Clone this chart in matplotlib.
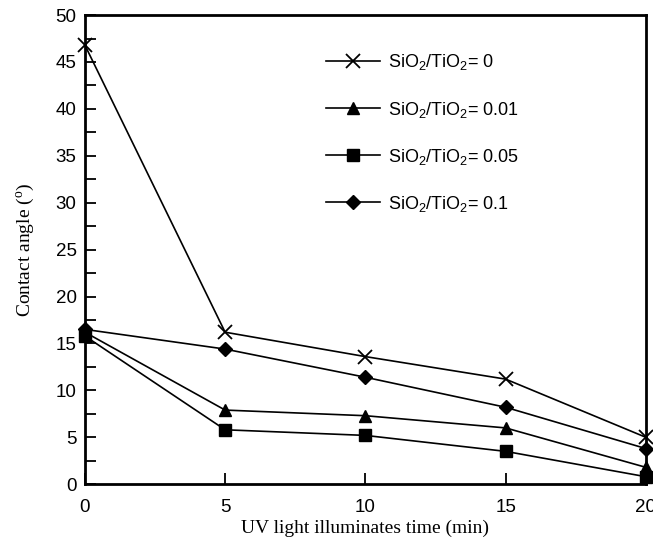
import matplotlib
matplotlib.use('Agg')
import matplotlib.pyplot as plt

# UV illumination time (min)
time_min = [0, 5, 10, 15, 20]

# contact angle (deg) for each SiO2/TiO2 ratio
ca_0 = [46.8, 16.2, 13.6, 11.2, 5.0]
ca_001 = [16.2, 7.9, 7.3, 6.0, 1.8]
ca_005 = [15.8, 5.8, 5.2, 3.5, 0.8]
ca_01 = [16.5, 14.4, 11.4, 8.2, 3.8]

labels = ['SiO$_2$/TiO$_2$= 0', 'SiO$_2$/TiO$_2$= 0.01',
          'SiO$_2$/TiO$_2$= 0.05', 'SiO$_2$/TiO$_2$= 0.1']

plt.rcParams['font.family'] = ['Liberation Sans', 'DejaVu Sans']
plt.rcParams['mathtext.default'] = 'regular'

fig = plt.figure(figsize=(6.53, 5.38), dpi=100)
ax = fig.add_axes([0.130, 0.100, 0.859, 0.872])

ax.plot(time_min, ca_0, color='black', lw=1.2, marker='x', ms=10, mew=1.3,
        label=labels[0], clip_on=False, zorder=3)
ax.plot(time_min, ca_001, color='black', lw=1.2, marker='^', ms=9,
        label=labels[1], clip_on=False, zorder=3)
ax.plot(time_min, ca_005, color='black', lw=1.2, marker='s', ms=8,
        label=labels[2], clip_on=False, zorder=3)
ax.plot(time_min, ca_01, color='black', lw=1.2, marker='D', ms=7,
        label=labels[3], clip_on=False, zorder=3)

ax.set_xlim(0, 20)
ax.set_ylim(0, 50)
ax.set_xticks([0, 5, 10, 15, 20])
ax.set_yticks(range(0, 51, 5))
ax.set_yticks([2.5 + 5 * i for i in range(10)], minor=True)

for s in ax.spines.values():
    s.set_linewidth(2)

ax.tick_params(axis='both', which='major', direction='in', length=8, width=1.3,
               labelsize=13.5, pad=6)
ax.tick_params(axis='y', which='minor', direction='in', length=8, width=1.3)
ax.tick_params(axis='x', pad=11)

ax.set_xlabel('UV light illuminates time (min)', family='Liberation Serif',
              fontsize=14, labelpad=2)
ax.set_ylabel('Contact angle ($^{o}$)', family='Liberation Serif',
              fontsize=14, labelpad=14)

ax.legend(loc='upper left', bbox_to_anchor=(0.40, 0.955), frameon=False,
          fontsize=13, handlelength=3.0, labelspacing=1.5, handletextpad=0.45)

fig.savefig('out.png', dpi=100)
